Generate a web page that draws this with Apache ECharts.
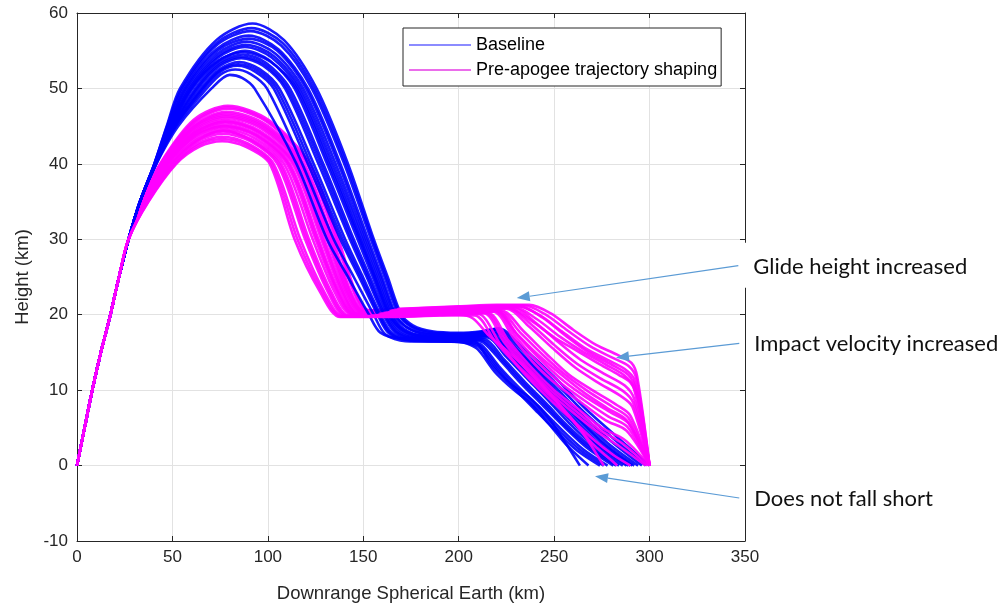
<!DOCTYPE html>
<html>
<head>
<meta charset="utf-8">
<script src="https://cdn.jsdelivr.net/npm/echarts@6/dist/echarts.min.js"></script>
<style>
  html, body { margin: 0; padding: 0; background: #fff; }
  #chart { width: 1001px; height: 609px; }
</style>
</head>
<body>
<div id="chart"></div>
<script>
// Downrange (km) vs height (km) for Monte Carlo trajectory runs.
const X_TICKS = [0, 50, 100, 150, 200, 250, 300, 350];
const Y_TICKS = [-10, 0, 10, 20, 30, 40, 50, 60];

// Boost phase shared by every run
const ascent = [[0,0],[4,5],[8,10],[12.5,15],[17.5,20],[22,25],[27,30]];

// Baseline runs
const b01 = [[33,35],[40.5,40],[47,45],[54,50],[73,56.4],[92,58.6],[108.5,56.4],[125.5,50],[142,40],[155.5,30],[162.8,25],[170,20],[176,18.6],[186,17.8],[200,17.6],[212,17.8],[221,18.2],[232,16],[242.5,13.6],[255,10.5],[267,7.4],[282,4],[300,0]];
const b02 = [[33,35],[40.6,40],[47.5,45],[55.5,50],[73,55.7],[91,57.6],[107,55.7],[123,50],[140,40],[154,30],[161.2,25],[168.5,20],[174.5,18.5],[184,17.6],[200,17.4],[211,17.6],[219,18],[230,15.6],[241,12.9],[253,9.8],[265,6.6],[280,3.2],[296,0]];
const b03 = [[33,35],[40.7,40],[48,45],[56.5,50],[73,55.2],[90,57],[105.5,55.2],[121,50],[138,40],[152.5,30],[159.8,25],[167,20],[173,18.3],[183,17.4],[200,17.2],[210,17.4],[218,17.8],[229,15.2],[240,12.4],[251,9.4],[263,6.2],[277,2.8],[292,0]];
const b04 = [[33,35],[40.8,40],[48.5,45],[58,50],[73.5,54.6],[89,56.2],[104,54.6],[118.5,50],[135.5,40],[150.5,30],[158,25],[165.5,20],[171.5,18.1],[181,17.2],[200,17],[210,17.2],[217,17.4],[228,14.8],[239,12],[250,9],[262,5.8],[275,2.6],[290,0]];
const b05 = [[33,35],[40.9,40],[49,45],[59.5,50],[74,54.1],[88,55.5],[102,54.1],[116,50],[133,40],[148.5,30],[156.2,25],[164,20],[170,18],[180,17.1],[200,16.9],[209,17.1],[216,17.2],[226,14.6],[237,11.8],[248,8.8],[260,5.6],[273,2.6],[288,0]];
const b06 = [[33,35],[41,40],[49.5,45],[60.5,50],[74.5,53.7],[88,55],[101,53.7],[114,50],[131,40],[147,30],[155,25],[163,20],[169,17.9],[179,17],[200,16.8],[208,16.9],[215,17],[225,14.4],[236,11.5],[247,8.6],[258,5.6],[271,2.6],[286,0]];
const b07 = [[33,35],[41.1,40],[50,45],[62,50],[74.5,53.4],[87,54.5],[99,53.4],[111.5,50],[129,40],[145,30],[153.5,25],[162,20],[168,17.8],[178,16.9],[200,16.7],[208,16.8],[214,16.7],[224,14],[235,11],[246,8.2],[257,5.3],[270,2.4],[284,0]];
const b08 = [[33,35],[41.2,40],[50.5,45],[63.5,50],[75,53],[86,54],[97.5,53],[109,50],[126.5,40],[143,30],[151.8,25],[160.5,20],[166.5,17.7],[176,16.8],[200,16.6],[207,16.6],[213,16.3],[223,13.6],[233,10.8],[244,8],[255,5.2],[267,2.4],[281,0]];
const b09 = [[33,35],[41.3,40],[51,45],[65,50],[75,52.6],[85,53.5],[95.5,52.6],[106,50],[124,40],[140.5,30],[149.8,25],[159,20],[165,17.6],[175,16.7],[200,16.5],[206,16.4],[212,16],[221,13.2],[231,10.5],[242,7.8],[253,5],[265,2.2],[278,0]];
const b10 = [[33,35],[41.4,40],[51.5,45],[66.5,50],[75,52.2],[84,53],[93.5,52.2],[103,50],[121,40],[138,30],[147.8,25],[157.5,20],[163.5,17.5],[174,16.6],[200,16.4],[205,16.2],[211,15.6],[220,12.8],[230,10],[240,7.4],[251,4.6],[262,2],[274,0]];
const b11 = [[33,35],[41.5,40],[52,45],[68,50],[75.5,51.9],[83,52.5],[91,51.9],[99.5,50],[118,40],[134.5,30],[145,25],[155.5,20],[161.5,17.4],[172,16.5],[200,16.4],[204,16.2],[210,15.4],[219,12.4],[229,10],[237,8.4],[247,5.6],[257,2.6],[268,0]];
const b12 = [[33,35],[41.6,40],[53,45],[70.5,50],[80,51.8],[86.5,51.4],[93,50],[115,40],[131,30],[142,25],[153,20],[159,17.6],[170,16.8],[195,16.6],[203,16.6],[209.5,16.3],[217,13.4],[225,11.3],[230,10.3],[235.7,9.3],[242,7.8],[248,6],[256,3],[263.5,0]];
const b13 = [[33,35],[40.7,40],[48.2,45],[57,50],[73.5,55],[90,56.6],[105,55],[120,50],[137,40],[151.5,30],[159,25],[166.5,20],[172.5,18.4],[182,17.5],[200,17.3],[211,17.6],[219,18.1],[230,15.4],[241,12.6],[252,9.6],[264,6.4],[278,3],[294,0]];
const b14 = [[33,35],[41,40],[49.3,45],[60,50],[73.5,53.6],[87,54.8],[101,53.6],[115,50],[132,40],[148,30],[155.8,25],[163.5,20],[169.5,18.2],[179,17.3],[200,17.1],[210,17.3],[218,17.6],[229,15],[240,12.2],[251,9.2],[263,6],[276,2.8],[291,0]];
const b15 = [[33,35],[40.5,40],[47.2,45],[54.8,50],[73,56],[91.5,58],[107.8,56],[124.2,50],[141,40],[154.8,30],[162,25],[169.2,20],[175.2,18.5],[185,17.7],[200,17.5],[211.5,17.7],[220,18.1],[231,15.8],[241.8,13.2],[254,10.1],[266,7],[281,3.6],[298,0]];
const b16 = [[33,35],[40.85,40],[48.8,45],[58.8,50],[73.8,54.3],[88.5,55.8],[103,54.3],[117.2,50],[134.2,40],[149.5,30],[157,25],[164.8,20],[170.8,18],[180.5,17.1],[200,16.95],[209.5,17.1],[216.5,17.3],[227,14.7],[238,11.9],[249,8.9],[261,5.7],[274,2.6],[289,0]];
const b17 = [[33,35],[41.15,40],[50.2,45],[62.8,50],[74.8,53.2],[86.5,54.2],[98.2,53.2],[110.2,50],[127.8,40],[144,30],[152.6,25],[161.2,20],[167.2,17.75],[177,16.85],[200,16.65],[207.5,16.7],[213.5,16.5],[223.5,13.8],[234,10.9],[245,8.1],[256,5.2],[268.5,2.4],[282.5,0]];
const b18 = [[33,35],[41.35,40],[51.2,45],[65.8,50],[75,52.4],[84.5,53.2],[94.5,52.4],[104.5,50],[122.5,40],[139.2,30],[148.8,25],[158.2,20],[164.2,17.55],[174.5,16.65],[200,16.45],[205.5,16.3],[211.5,15.8],[220.5,13],[230.5,10.2],[241,7.6],[252,4.8],[263.5,2.1],[276,0]];

// Pre-apogee trajectory shaping runs
const p01 = [[34,35],[43.5,40],[61,45.8],[79,47.7],[100.5,45.8],[122,40],[137,30],[146,23],[153,20.6],[170,20.8],[200,21.1],[220,21.3],[237,21.3],[248,20.2],[260,18],[272,16],[283,14.7],[290.5,13.6],[293.5,11.8],[300,0]];
const p02 = [[34.3,35],[44,40],[61.5,45.5],[79,47.3],[100,45.5],[120.5,40],[135.5,30],[145,23],[152,20.5],[170,20.7],[200,21],[230,21.2],[242,20],[254,17.8],[266,15.6],[278,14],[287,12.8],[292,11.4],[300,0]];
const p03 = [[34.5,35],[44.5,40],[61.5,45.2],[78.5,46.9],[99,45.2],[119,40],[134,30],[143.5,23],[151,20.4],[170,20.6],[200,20.9],[232,21.1],[244,19.6],[256,17.2],[268,15],[280,13.4],[289,12],[293,10],[300,0]];
const p04 = [[34.8,35],[45,40],[61.5,44.9],[78,46.5],[98,44.9],[117.5,40],[132.5,30],[142.3,23],[150,20.4],[170,20.6],[200,20.8],[226,20.9],[238,19.2],[250,17],[262,15.2],[274,13.4],[284,12],[290,11],[294,8.8],[300,0]];
const p05 = [[35,35],[45.5,40],[62,44.6],[78,46.1],[97,44.6],[116,40],[131,30],[141,23],[149,20.3],[170,20.5],[200,20.8],[228,21],[240,19],[252,16.4],[264,14],[276,12.2],[287,10.6],[292,8.8],[300,0]];
const p06 = [[35.3,35],[46,40],[62,44.35],[77.5,45.8],[96,44.35],[114.5,40],[129.5,30],[140,23],[148,20.2],[170,20.4],[200,20.6],[225,20.8],[237,18.4],[249,15.6],[261,13],[273,11],[285,9.2],[291,7.8],[300,0]];
const p07 = [[35.5,35],[46.5,40],[62,44.1],[77.5,45.5],[95.3,44.1],[113,40],[128,30],[138.6,23],[147,20.1],[170,20.3],[200,20.5],[222,20.6],[234,17.8],[246,14.8],[258,12],[270,10],[283,8],[290,6.6],[300,0]];
const p08 = [[35.8,35],[47,40],[62,43.9],[77,45.2],[94.3,43.9],[111.5,40],[126.5,30],[137.4,23],[146,20.1],[170,20.3],[200,20.5],[219,20.6],[230,17.6],[242,14.6],[254,12],[266,9.6],[278,7.6],[288,6],[300,0]];
const p09 = [[36,35],[47.5,40],[62.3,43.7],[77,44.9],[93.5,43.7],[110,40],[125,30],[136.2,23],[145,20],[170,20.2],[200,20.4],[220,20.5],[231,17.2],[243,14],[255,11.2],[267,9],[280,7],[289,5.6],[300,0]];
const p10 = [[36.3,35],[48,40],[62.5,43.45],[77,44.6],[92.8,43.45],[108.5,40],[123.5,30],[135,23],[144,20],[170,20.1],[200,20.3],[218,20.4],[229,16.8],[240,13.4],[252,10.6],[264,8.4],[277,6],[288,4.6],[300,0]];
const p11 = [[36.5,35],[49,40],[62.8,43.2],[76.5,44.3],[91.8,43.2],[107,40],[121.5,30],[133.3,23],[142.5,19.9],[170,20],[195,20.2],[215,20.3],[226,16.6],[238,13],[250,10],[262,7.6],[275,5],[287,3.4],[300,0]];
const p12 = [[36.8,35],[50,40],[63.3,43],[76.5,44],[90.8,43],[105,40],[119.5,30],[131.5,23],[141,19.8],[170,19.9],[195,20.1],[213,20.2],[224,16.3],[236,12.6],[248,9.6],[260,7],[273,4.4],[285,2.4],[298,0]];
const p13 = [[37.1,35],[51,40],[63.5,42.7],[76,43.6],[89.5,42.7],[103,40],[117,30],[129.6,23],[139.5,19.8],[165,19.8],[190,20],[210,20.1],[222,16],[234,12.3],[246,9.2],[258,6.4],[270,3.6],[281,1.4],[290,0]];
const p14 = [[37.5,35],[52,40],[64,42.25],[76,43],[88.5,42.25],[101,40],[114,30],[127.4,23],[138,19.7],[165,19.7],[190,19.9],[200.6,20],[207.5,19.5],[216,17.2],[225,15.3],[234,13.2],[242.5,11],[251,8.6],[260,6],[267,3.6],[274,0.8],[276,0]];
const p15 = [[34.2,35],[43.8,40],[61.2,45.6],[79,47.5],[100.2,45.6],[121.2,40],[136.2,30],[145.5,23],[152.5,20.55],[170,20.75],[200,21.05],[234,21.25],[245,20.1],[257,17.9],[269,15.8],[280.5,14.3],[289,13.2],[293,11.6],[300,0]];
const p16 = [[34.6,35],[44.8,40],[61.5,45],[78.2,46.7],[98.5,45],[118.2,40],[133.2,30],[143,23],[150.5,20.4],[170,20.6],[200,20.85],[229,21],[241,19.4],[253,17.1],[265,15.1],[277,13.4],[286.5,12],[291.5,10.5],[300,0]];
const p17 = [[34.9,35],[45.2,40],[61.8,44.75],[78,46.3],[97.5,44.75],[116.8,40],[131.8,30],[141.6,23],[149.5,20.35],[170,20.55],[200,20.8],[226,20.9],[238,18.7],[250,16],[262,13.5],[274,11.6],[286,9.9],[291.5,8.3],[300,0]];
const p18 = [[35.4,35],[46.2,40],[62,44.2],[77.5,45.6],[95.6,44.2],[113.8,40],[128.8,30],[139.3,23],[147.5,20.1],[170,20.35],[200,20.55],[220.5,20.6],[232,17.7],[244,14.7],[256,12],[268,9.8],[280.5,7.8],[289,6.3],[300,0]];
const p19 = [[35.9,35],[47.2,40],[62.2,43.8],[77,45],[93.9,43.8],[110.8,40],[125.8,30],[136.8,23],[145.5,20.05],[170,20.25],[200,20.45],[219,20.45],[230,17],[241.5,13.7],[253.5,10.9],[265.5,8.7],[278.5,6.5],[288.5,5.1],[300,0]];
const p20 = [[36.6,35],[49.5,40],[63,43.1],[76.5,44.4],[91.3,43.1],[106,40],[120.5,30],[132.4,23],[141.8,19.85],[170,19.95],[195,20.15],[214,20.25],[225,16.45],[237,12.8],[249,9.8],[261,7.3],[274,4.7],[286,2.9],[299,0]];
const p21 = [[37.3,35],[51.5,40],[63.8,42.5],[76,43.3],[89,42.5],[102,40],[115.5,30],[128.5,23],[138.8,19.75],[165,19.75],[190,19.95],[208.5,19.9],[219,16.5],[229.5,13.6],[240,11.1],[250.5,8.6],[261,5.6],[270,2.9],[280,0.7],[283,0]];

const baselineRuns = [b01, b15, b02, b13, b03, b04, b16, b14, b05, b06, b07, b17, b08, b09, b18, b10, b11, b12];
const shapedRuns = [p01, p15, p02, p03, p16, p04, p05, p17, p06, p07, p18, p08, p09, p19, p10, p11, p20, p12, p13, p21, p14];

const BASE_NAME = 'Baseline';
const SHAPED_NAME = 'Pre-apogee trajectory shaping';
const BLUE = '#0000ff';
const MAGENTA = '#ff00ff';

// Annotation arrows: label, tail and tip in data units
const notes = [
  { text: 'Glide height increased', tail: [346.5, 26.5], tip: [230.4, 22.2], box: true },
  { text: 'Impact velocity increased', tail: [347.0, 16.2], tip: [282.4, 14.3], box: false },
  { text: 'Does not fall short', tail: [347.0, -4.3], tip: [271.4, -1.4], box: false }
];

function runSeries(run, name, color) {
  return {
    type: 'line',
    name: name,
    data: ascent.concat(run),
    showSymbol: false,
    symbol: 'none',
    smooth: 0.3,
    silent: true,
    itemStyle: { color: color },
    lineStyle: { color: color, width: 2.6, opacity: 0.9 }
  };
}

// Interleave the two sets so neither one is drawn entirely on top
const series = [];
const nRuns = Math.max(baselineRuns.length, shapedRuns.length);
for (let i = 0; i < nRuns; i++) {
  if (i < baselineRuns.length) series.push(runSeries(baselineRuns[i], BASE_NAME, BLUE));
  if (i < shapedRuns.length) series.push(runSeries(shapedRuns[i], SHAPED_NAME, MAGENTA));
}

const AXIS_COLOR = '#262626';
const GRID_COLOR = '#e2e2e2';
const FONT = '"Liberation Sans", Arial, sans-serif';

const chart = echarts.init(document.getElementById('chart'), null, { renderer: 'canvas' });

const option = {
  animation: false,
  backgroundColor: '#fff',
  grid: { left: 77, right: 256, top: 13, bottom: 68, containLabel: false },
  legend: {
    left: 403, top: 28,
    orient: 'vertical',
    icon: 'rect',
    itemWidth: 62, itemHeight: 1.5,
    itemGap: 5,
    padding: [7, 4, 6, 6],
    borderColor: AXIS_COLOR, borderWidth: 1,
    backgroundColor: '#fff',
    selectedMode: false,
    textStyle: { fontFamily: FONT, fontSize: 18, color: '#000', lineHeight: 20 },
    data: [
      { name: BASE_NAME, itemStyle: { color: '#6464ff' } },
      { name: SHAPED_NAME, itemStyle: { color: '#e43ce4' } }
    ]
  },
  xAxis: [{
    type: 'value', min: X_TICKS[0], max: X_TICKS[X_TICKS.length - 1], interval: 50,
    name: 'Downrange Spherical Earth (km)', nameLocation: 'middle', nameGap: 43,
    nameTextStyle: { fontFamily: FONT, fontSize: 18.5, color: AXIS_COLOR },
    axisLine: { onZero: false, lineStyle: { color: AXIS_COLOR, width: 1 } },
    axisTick: { inside: true, length: 5, lineStyle: { color: AXIS_COLOR } },
    axisLabel: { fontFamily: FONT, fontSize: 17, color: AXIS_COLOR, margin: 8 },
    splitLine: { show: true, lineStyle: { color: GRID_COLOR, width: 1 } }
  }, {
    type: 'value', position: 'top', min: X_TICKS[0], max: X_TICKS[X_TICKS.length - 1], interval: 50,
    axisLine: { onZero: false, lineStyle: { color: AXIS_COLOR, width: 1 } },
    axisTick: { inside: true, length: 5, lineStyle: { color: AXIS_COLOR } },
    axisLabel: { show: false }, splitLine: { show: false }
  }],
  yAxis: [{
    type: 'value', min: Y_TICKS[0], max: Y_TICKS[Y_TICKS.length - 1], interval: 10,
    name: 'Height (km)', nameLocation: 'middle', nameGap: 44,
    nameTextStyle: { fontFamily: FONT, fontSize: 18.5, color: AXIS_COLOR },
    axisLine: { show: true, onZero: false, lineStyle: { color: AXIS_COLOR, width: 1 } },
    axisTick: { show: true, inside: true, length: 5, lineStyle: { color: AXIS_COLOR } },
    axisLabel: { fontFamily: FONT, fontSize: 17, color: AXIS_COLOR, margin: 9 },
    splitLine: { show: true, lineStyle: { color: GRID_COLOR, width: 1 } }
  }, {
    type: 'value', position: 'right', min: Y_TICKS[0], max: Y_TICKS[Y_TICKS.length - 1], interval: 10,
    axisLine: { show: true, onZero: false, lineStyle: { color: AXIS_COLOR, width: 1 } },
    axisTick: { show: true, inside: true, length: 5, lineStyle: { color: AXIS_COLOR } },
    axisLabel: { show: false }, splitLine: { show: false }
  }],
  series: series
};

chart.setOption(option);

// Callout labels with arrows, placed from data coordinates
const ARROW = '#5b9bd5';
const NOTE_FONT = '22px Lato, "Open Sans", sans-serif';
const graphics = [];
notes.forEach(n => {
  const t = chart.convertToPixel({ xAxisIndex: 0, yAxisIndex: 0 }, n.tail);
  const h = chart.convertToPixel({ xAxisIndex: 0, yAxisIndex: 0 }, n.tip);
  if (n.box) {
    graphics.push({ type: 'rect', shape: { x: t[0], y: t[1] - 23, width: 1001 - t[0], height: 45 },
      style: { fill: '#fff' }, z: 100 });
  }
  graphics.push({ type: 'text', x: t[0] + 15, y: t[1] + 1, z: 101,
    style: { text: n.text, font: NOTE_FONT, fill: '#111', verticalAlign: 'middle', align: 'left' } });
  const dx = h[0] - t[0], dy = h[1] - t[1];
  const len = Math.sqrt(dx * dx + dy * dy);
  const ux = dx / len, uy = dy / len;
  const headLen = 13, headHalf = 5;
  const bx = h[0] - ux * headLen, by = h[1] - uy * headLen;
  graphics.push({ type: 'line', z: 102,
    shape: { x1: t[0], y1: t[1], x2: bx, y2: by },
    style: { stroke: ARROW, lineWidth: 1.2 } });
  graphics.push({ type: 'polygon', z: 102,
    shape: { points: [[h[0], h[1]], [bx - uy * headHalf, by + ux * headHalf], [bx + uy * headHalf, by - ux * headHalf]] },
    style: { fill: ARROW } });
});
chart.setOption({ graphic: graphics });
</script>
</body>
</html>
